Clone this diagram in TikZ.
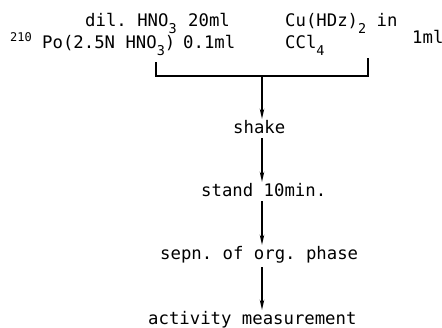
\documentclass[tikz,border=0pt]{standalone}
\usepackage{fontspec}
\setmonofont{DejaVu Sans Mono}
\usetikzlibrary{arrows.meta}
\newcommand\mysub[1]{\raisebox{-7pt}{\fontsize{13.5}{14}\selectfont #1}}
\begin{document}
\begin{tikzpicture}[x=1pt,y=-1pt,
  txt/.style={font=\ttfamily\fontsize{17.3}{20}\selectfont, inner xsep=0pt, inner ysep=1pt,
    text height=13pt, text depth=4pt, anchor=base west},
  small/.style={font=\ttfamily\fontsize{12}{14}\selectfont, inner sep=0pt, anchor=base west},
  line/.style={line width=1.2pt},
  flow/.style={line width=1.3pt, -{Stealth[length=10pt,width=4.5pt]}}]
\useasboundingbox (0,0) rectangle (442,327);
% top lines
\node[txt] (l1a) at (85,26) {dil. HNO\mysub{3}};
\node[txt] (l1b) at (188,26) {20ml};
\node[txt] (l1c) at (285,26) {Cu(HDz)\mysub{2} in};
\node[small] (l2s) at (10,41) {210};
\node[txt] (l2a) at (42,48) {Po(2.5N HNO\mysub{3})};
\node[txt] (l2b) at (183,48) {0.1ml};
\node[txt] (l2c) at (285,48) {CCl\mysub{4}};
\node[txt] (l2d) at (412,43) {1ml};
% bracket
\coordinate (bl) at (156,62);
\coordinate (blc) at (156,76);
\coordinate (br) at (368,58);
\coordinate (brc) at (368,76);
\coordinate (st) at (262,76);
\draw[line] (bl) -- (blc) -- (brc) -- (br);
% flow
\node[txt] (shake) at (233,133) {shake};
\node[txt] (stand) at (201,196) {stand 10min.};
\node[txt] (sepn) at (160,259) {sepn. of org. phase};
\node[txt] (act) at (148,324) {activity measurement};
\draw[flow] (st) -- (st |- shake.north);
\draw[flow] (st |- shake.south) -- (st |- stand.north);
\draw[flow] (st |- stand.south) -- (st |- sepn.north);
\draw[flow] ([yshift=-3pt]st |- sepn.south) -- (st |- act.north);
\end{tikzpicture}
\end{document}
